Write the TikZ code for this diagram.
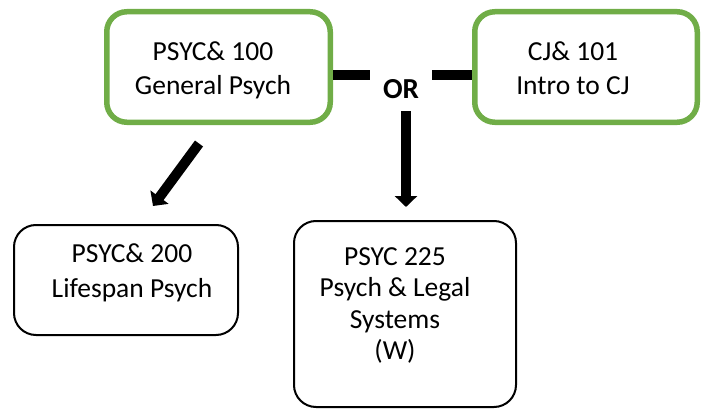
\documentclass[tikz,border=0pt]{standalone}
\usepackage{fontspec}
\setmainfont{Carlito}
\usetikzlibrary{arrows.meta}
\definecolor{boxgreen}{HTML}{70AD47}
\tikzset{
  greenbox/.style={draw=boxgreen, line width=5.5pt, rounded corners=20pt, fill=white, inner sep=0pt},
  blackbox/.style={draw=black, line width=2pt, rounded corners=22pt, fill=white, inner sep=0pt},
  boxtext/.style={align=center, inner sep=0pt, font=\fontsize{27.5}{34}\selectfont},
  orbar/.style={draw=black, line width=10pt},
  fatarrow/.style={draw=black, line width=10pt, -{Triangle[width=22pt,length=11pt]}}
}
\begin{document}
\begin{tikzpicture}[x=1pt, y=-1pt]
\useasboundingbox (0,0) rectangle (702,412);
% boxes
\node[greenbox, minimum width=223.5pt, minimum height=110.5pt] (p100) at (218.5,67) {};
\node[greenbox, minimum width=222.5pt, minimum height=110.5pt] (cj101) at (586,67) {};
\node[blackbox, minimum width=224pt, minimum height=110pt] (p200) at (126,280) {};
\node[blackbox, minimum width=222pt, minimum height=186pt] (p225) at (405,314) {};
% texts
\node[boxtext] (t100) at (213,70) {PSYC\& 100\\General Psych};
\node[boxtext] (t101) at (573,68) {CJ\& 101\\Intro to CJ};
\node[boxtext, font=\fontsize{27.5}{35}\selectfont] (t200) at (132,273) {PSYC\& 200\\Lifespan Psych};
\node[boxtext, font=\fontsize{27.5}{31.5}\selectfont] (t225) at (395,305.5) {PSYC 225\\Psych \& Legal\\Systems\\(W)};
\node[inner sep=0pt, font=\fontsize{29}{34}\selectfont\bfseries] (or) at (401,89) {OR};
% connector coordinates
\coordinate (barL) at (370,75.5);
\coordinate (barR) at (432,75.5);
\coordinate (downS) at (406,111);
\coordinate (downE) at (406,207);
\coordinate (diagS) at (199,143.5);
\coordinate (diagE) at (153,206);
% connectors
\draw[orbar] (p100.east |- barL) -- (barL);
\draw[orbar] (barR) -- (cj101.west |- barR);
\draw[fatarrow] (downS) -- (downE);
\draw[fatarrow] (diagS) -- (diagE);
\end{tikzpicture}
\end{document}
